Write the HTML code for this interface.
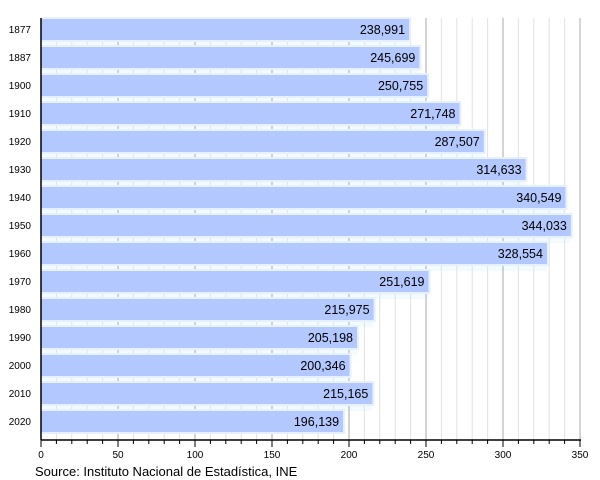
<!DOCTYPE html>
<html><head><meta charset="utf-8"><style>
html,body{margin:0;padding:0;background:#fff;}
svg{display:block;font-family:"Liberation Sans",Arial,sans-serif;}
</style></head><body>
<svg width="600" height="480" viewBox="0 0 600 480" xmlns="http://www.w3.org/2000/svg">
<g id="gaps"></g>
<g id="grid"></g>
<g id="bars"></g>
<line x1="41" y1="18" x2="41" y2="440" stroke="#000" stroke-width="1.5"/>
<line x1="41" y1="440" x2="581" y2="440" stroke="#000" stroke-width="1.5"/>
<g id="ticks"></g>
<text x="35" y="476" font-size="13" fill="#000">Source: Instituto Nacional de Estadística, INE</text>
<script>
var ns="http://www.w3.org/2000/svg";
function el(t,a,p,txt){var e=document.createElementNS(ns,t);for(var k in a)e.setAttribute(k,a[k]);if(txt!=null)e.textContent=txt;document.getElementById(p).appendChild(e);return e;}
var x0=41,s=(580-41)/350;
for(var v=10;v<=350;v+=10){var x=x0+v*s;var maj=v%50==0;
el('line',{x1:x,y1:18,x2:x,y2:440,stroke:maj?'#aaa':'#e2e2e2','stroke-width':1},'grid');
el('line',{x1:x,y1:440,x2:x,y2:maj?447:444,stroke:'#000','stroke-width':1},'ticks');}
for(var v=0;v<=350;v+=50){el('text',{x:x0+v*s,y:458,'font-size':10,'text-anchor':'middle'},'ticks',String(v));}
el('line',{x1:x0,y1:440,x2:x0,y2:447,stroke:'#000'},'ticks');
var d=[["1877",238991],["1887",245699],["1900",250755],["1910",271748],["1920",287507],["1930",314633],["1940",340549],["1950",344033],["1960",328554],["1970",251619],["1980",215975],["1990",205198],["2000",200346],["2010",215165],["2020",196139]];
d.forEach(function(r,i){var y=19+28*i;var w=r[1]/1000*s;
if(i<14)el('rect',{x:x0,y:y+21,width:w,height:7,fill:'#f2fbff'},'gaps');
el('rect',{x:x0,y:y-2,width:w+2,height:25,fill:'#e6f0ff'},'bars');
el('rect',{x:x0,y:y,width:w,height:21,fill:'#b3c8ff'},'bars');
el('text',{x:x0+w-4,y:y+15,'font-size':12.5,'text-anchor':'end'},'bars',r[1].toLocaleString('en-US'));
el('text',{x:31,y:y+14,'font-size':10,'text-anchor':'end'},'bars',r[0]);});
</script>
</svg>
</body></html>
